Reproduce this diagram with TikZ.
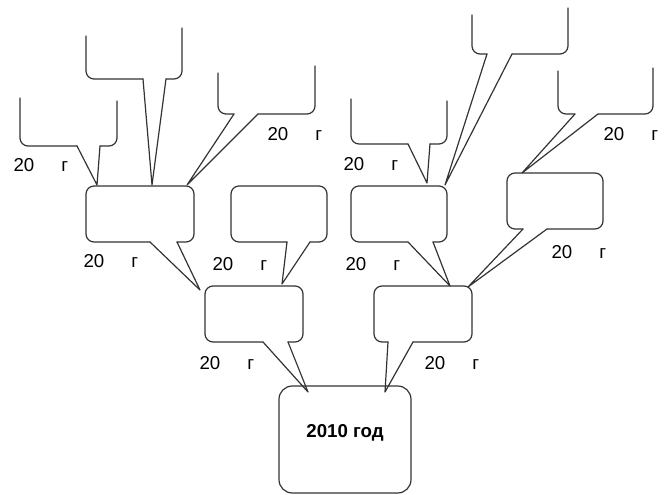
\documentclass[tikz,border=0pt]{standalone}
\usepackage{fontspec}
\setmainfont{Liberation Sans}
\usetikzlibrary{calc,fit}

\tikzset{
  tree/.style={x=0.75pt,y=-0.75pt,line width=0.9pt,line cap=round,
    line join=round,draw=black!80},
  hull/.style={inner sep=0pt,outer sep=0pt},
  year/.style={anchor=west,inner sep=0pt,text=black,
    font=\fontsize{14}{16}\selectfont}
}

% callout: node, pointer base (from left edge), tip
\newcommand\bubble[4]{%
  \draw[rounded corners=6pt] ($(#1.south west)+(#3,0)$) -- (#1.south east)
    -- (#1.north east) -- (#1.north west) -- (#1.south west)
    -- ($(#1.south west)+(#2,0)$);
  \draw ($(#1.south west)+(#2,0)$) -- (#4) -- ($(#1.south west)+(#3,0)$);}
% same, open at the top; #5 lifts the right side
\newcommand\openbubble[5]{%
  \draw[rounded corners=6pt] (#1.north west) -- (#1.south west)
    -- ($(#1.south west)+(#2,0)$);
  \draw ($(#1.south west)+(#2,0)$) -- (#4) -- ($(#1.south west)+(#3,0)$);
  \draw[rounded corners=6pt] ($(#1.south west)+(#3,0)$) -- (#1.south east)
    -- ($(#1.north east)+(0,#5)$);}

\begin{document}
\begin{tikzpicture}[tree]
  \useasboundingbox (0,0) rectangle (668,495);

  % boxes
  \node[hull,fit={(279,386) (411,493)},draw,rounded corners=10pt,text=black,
    font=\bfseries\fontsize{14}{16}\selectfont] (root) {2010 год};
  \node[hull,fit={(205,286) (303,342)}] (cL) {};
  \node[hull,fit={(374,286) (472,342)}] (cR) {};
  \node[hull,fit={(86,186) (194,242)}] (aL) {};
  \node[hull,fit={(231,186) (327,242)}] (bL) {};
  \node[hull,fit={(351,186) (447,242)}] (eR) {};
  \node[hull,fit={(507,173) (603,229)}] (fR) {};
  \node[hull,fit={(20,98) (117,146)}] (gL) {};
  \node[hull,fit={(86,36) (182,79)}] (hL) {};
  \node[hull,fit={(218,73) (315,114)}] (iL) {};
  \node[hull,fit={(351,99) (447,144)}] (jR) {};
  \node[hull,fit={(472,15) (568,54)}] (kR) {};
  \node[hull,fit={(558,71) (653,114)}] (lR) {};

  % pointers
  \bubble{cL}{58}{83}{$(root.north west)+(29,6)$}
  \bubble{cR}{14}{39}{$(root.north east)+(-26,6)$}
  \bubble{aL}{64}{91}{$(cL.north west)+(-5,4)$}
  \bubble{bL}{56}{79}{$(cL.north east)+(-21,-2)$}
  \bubble{eR}{57}{82}{$(cR.north east)+(-22,0)$}
  \bubble{fR}{16}{40}{$(cR.north east)+(-4,1)$}
  \openbubble{gL}{57}{80}{$(aL.north west)+(11,-1)$}{3}
  \openbubble{hL}{57}{80}{$(aL.north)+(12,-1)$}{-8}
  \openbubble{iL}{16}{40}{$(aL.north east)+(-7,-1)$}{-7}
  \openbubble{jR}{57}{79}{$(eR.north east)+(-20,-3)$}{2}
  \openbubble{kR}{15}{40}{$(eR.north east)+(-2,-1)$}{-7}
  \openbubble{lR}{17}{40}{$(fR.north west)+(15,0)$}{-3}

  % years
  \node[year] (yG) at (13,165) {20\hspace{1.45em}г};
  \node[year] (yI) at (267,134) {20\hspace{1.45em}г};
  \node[year] (yJ) at (343,164) {20\hspace{1.45em}г};
  \node[year] (yL) at (603,134) {20\hspace{1.45em}г};
  \node[year] (yA) at (83,261) {20\hspace{1.45em}г};
  \node[year] (yB) at (212,264) {20\hspace{1.45em}г};
  \node[year] (yE) at (345,264) {20\hspace{1.45em}г};
  \node[year] (yF) at (551,252) {20\hspace{1.45em}г};
  \node[year] (yC) at (199,363) {20\hspace{1.45em}г};
  \node[year] (yD) at (424,363) {20\hspace{1.45em}г};
\end{tikzpicture}
\end{document}
